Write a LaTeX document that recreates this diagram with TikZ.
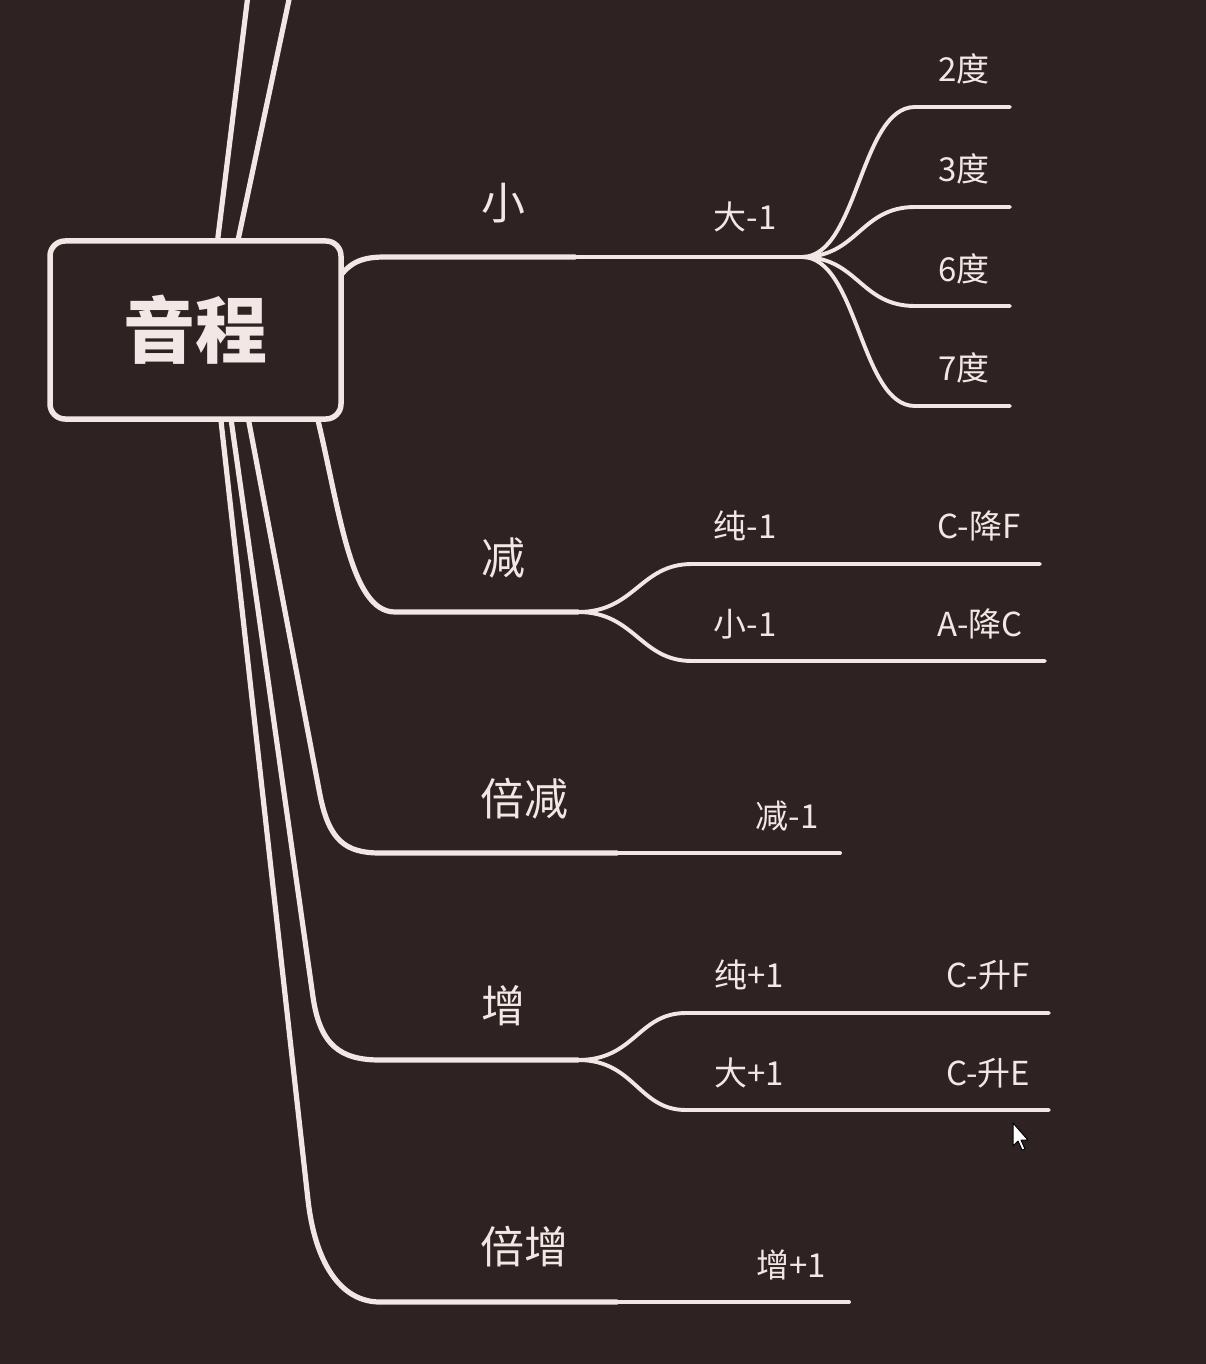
\documentclass[tikz,border=0pt]{standalone}
\usepackage{fontspec}
\newfontfamily\cjk{Noto Sans CJK SC}
\definecolor{bg}{RGB}{46,34,34}
\definecolor{fg}{RGB}{242,231,228}
\begin{document}
\begin{tikzpicture}[x=1pt,y=-1pt,
  mainline/.style={draw=fg, line width=5.2pt, line cap=round},
  subline/.style={draw=fg, line width=3.9pt, line cap=round},
  rootbox/.style={draw=fg, fill=bg, line width=5.5pt, rounded corners=15pt, minimum width=291pt, minimum height=178pt, inner sep=0pt},
  roottext/.style={text=fg, anchor=base, inner sep=0pt, font=\cjk\bfseries\fontsize{72}{72}\selectfont},
  lab/.style={text=fg, anchor=base, inner sep=0pt, font=\cjk\fontsize{44}{44}\selectfont},
  sub/.style={text=fg, anchor=base, inner sep=0pt, font=\cjk\fontsize{33}{33}\selectfont}]
\fill[bg] (0,0) rectangle (1206,1364);
\useasboundingbox (0,0) rectangle (1206,1364);

% named connector points
\coordinate (up1) at (248,-5);
\coordinate (up2) at (290,-5);
\coordinate (s1) at (217,245);
\coordinate (s2) at (237,245);
% xiao
\coordinate (xA) at (338,279);
\coordinate (xB) at (385,257);
\coordinate (xC) at (575,257);
\coordinate (xD) at (802,257);
% jian
\coordinate (jA) at (316,412);
\coordinate (jB) at (395,612);
\coordinate (jC) at (578,612);
% beijian
\coordinate (bjA) at (247,412);
\coordinate (bjB) at (320,795);
\coordinate (bjC) at (380,853);
\coordinate (bjD) at (617,853);
\coordinate (bjE) at (840,853);
% zeng
\coordinate (zA) at (230,412);
\coordinate (zB) at (313,997);
\coordinate (zC) at (380,1060);
\coordinate (zD) at (578,1060);
% beizeng
\coordinate (bzA) at (220,412);
\coordinate (bzB) at (308,1200);
\coordinate (bzC) at (380,1302);
\coordinate (bzD) at (617,1302);
\coordinate (bzE) at (849,1302);

% lines up
\draw[mainline] (s1) -- (up1);
\draw[mainline] (s2) -- (up2);

% 小 branch
\draw[mainline] (xA) .. controls (350,262) and (362,257) .. (xB) -- (xC);
\draw[subline] (xC) -- (xD);
\foreach \yy/\nm in {107/a,207/b,306/c,406/d}{
  \coordinate (f\nm1) at (915,\yy);
  \coordinate (f\nm2) at (1010,\yy);
  \draw[subline] (xD) .. controls (858,257) and (860,\yy) .. (f\nm1) -- (f\nm2);
}

% 减 branch
\draw[mainline] (jA) .. controls (340,510) and (350,612) .. (jB) -- (jC);
\coordinate (j1a) at (692,564); \coordinate (j1b) at (1040,564);
\coordinate (j2a) at (692,661); \coordinate (j2b) at (1045,661);
\draw[subline] (jC) .. controls (635,612) and (640,564) .. (j1a) -- (j1b);
\draw[subline] (jC) .. controls (635,612) and (640,661) .. (j2a) -- (j2b);

% 倍减 branch
\draw[mainline] (bjA) -- (bjB) .. controls (329,840) and (345,853) .. (bjC) -- (bjD);
\draw[subline] (bjD) -- (bjE);

% 增 branch
\draw[mainline] (zA) -- (zB) .. controls (320,1045) and (340,1060) .. (zC) -- (zD);
\coordinate (z1a) at (686,1013); \coordinate (z1b) at (1049,1013);
\coordinate (z2a) at (686,1110); \coordinate (z2b) at (1049,1110);
\draw[subline] (zD) .. controls (635,1060) and (638,1013) .. (z1a) -- (z1b);
\draw[subline] (zD) .. controls (635,1060) and (638,1110) .. (z2a) -- (z2b);

% 倍增 branch
\draw[mainline] (bzA) -- (bzB) .. controls (315,1262) and (340,1302) .. (bzC) -- (bzD);
\draw[subline] (bzD) -- (bzE);

% root
\node[rootbox] (root) at (195.5,330) {};
\node[roottext] (roott) at (195,357) {音程};

% labels
\node[lab] (lxiao) at (503,220) {小};
\node[sub] (ld1) at (745,230) {大-1};
\node[sub] (l2) at (964,82) {2度};
\node[sub] (l3) at (964,182) {3度};
\node[sub] (l6) at (964,281) {6度};
\node[sub] (l7) at (964,380) {7度};

\node[lab] (ljian) at (503,574) {减};
\node[sub] (lc1) at (745,538) {纯-1};
\node[sub] (lcf) at (979,538) {C-降F};
\node[sub] (lx1) at (745,636) {小-1};
\node[sub] (lac) at (980,636) {A-降C};

\node[lab] (lbj) at (524,815) {倍减};
\node[sub] (lj1) at (787,828) {减-1};

\node[lab] (lzeng) at (503,1022) {增};
\node[sub] (lcp) at (749,987) {纯+1};
\node[sub] (lcsf) at (988,987) {C-升F};
\node[sub] (ldp) at (749,1085) {大+1};
\node[sub] (lcse) at (988,1085) {C-升E};

\node[lab] (lbz) at (524,1263) {倍增};
\node[sub] (lz1) at (791,1277) {增+1};

% mouse pointer
\filldraw[fill=white, draw=black, line width=1pt, line join=round]
  (1013,1123) -- (1013,1146) -- (1018,1141) -- (1022,1150) -- (1025,1149) -- (1021,1140) -- (1028,1140) -- cycle;
\end{tikzpicture}
\end{document}
